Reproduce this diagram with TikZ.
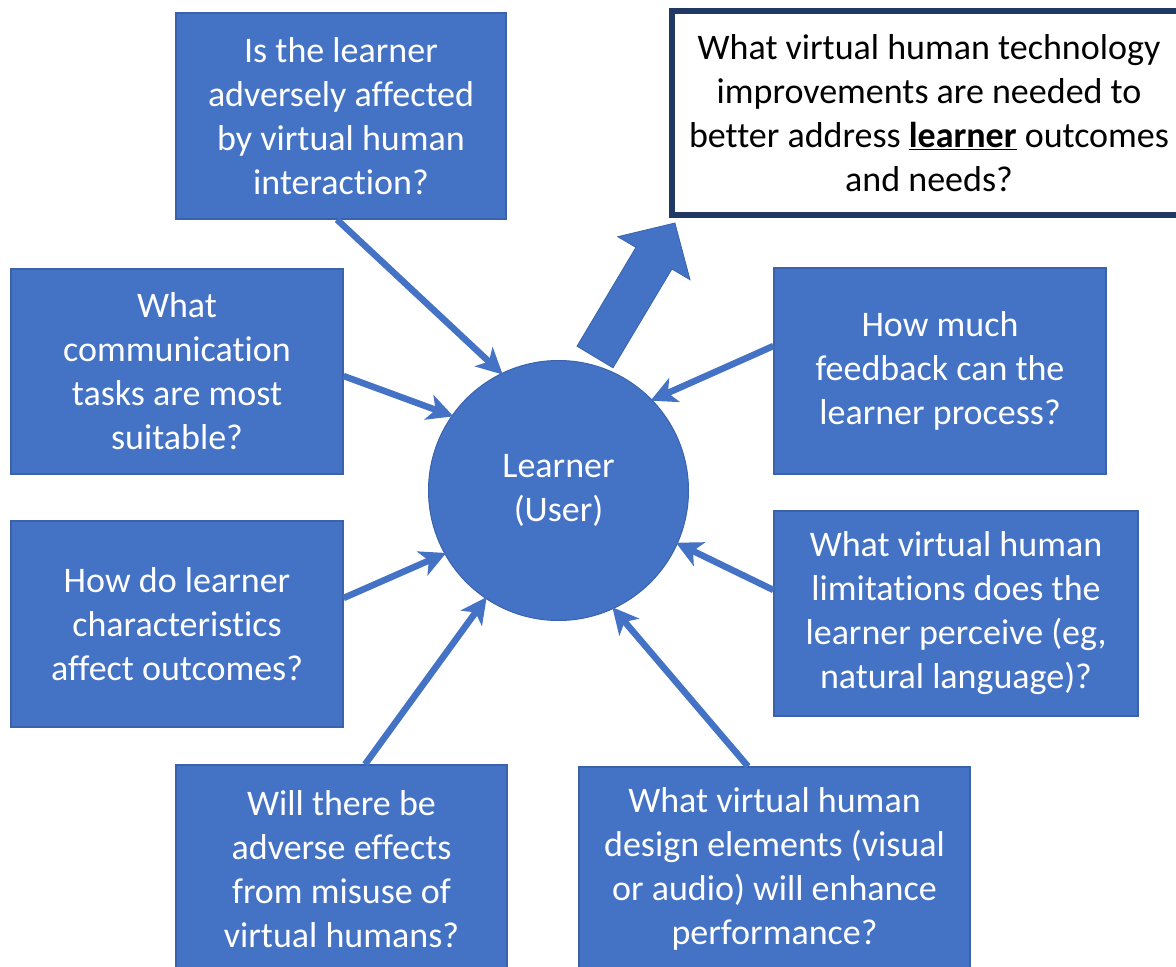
\documentclass[tikz,border=0pt]{standalone}
\usepackage{fontspec}
\setmainfont{Carlito}[Ligatures=CommonOff]
\usetikzlibrary{arrows.meta,calc}
\definecolor{vblue}{HTML}{4472C4}
\definecolor{vedge}{HTML}{3A63AC}
\definecolor{vnavy}{HTML}{203864}
\tikzset{
  qbox/.style={rectangle, fill=vblue, draw=vedge, line width=1.2pt, inner sep=0pt,
    text=white, align=center, font=\fontsize{36}{44}\selectfont},
  conn/.style={draw=vblue, line width=6.5pt,
    -{Stealth[length=26pt,width=26pt,inset=7pt]}, shorten >=-2pt},
  bigarrow/.style={fill=vblue, draw=vedge, line width=0.8pt, line join=miter},
}
\begin{document}
\begin{tikzpicture}[x=1pt,y=-1pt]
\useasboundingbox (0,0) rectangle (1176,967);
% centre
\node[circle, fill=vblue, draw=vedge, line width=1pt, minimum size=260pt, inner sep=0pt,
  text=white, align=center, font=\fontsize{36}{44}\selectfont] (L) at (558.5,490.5) {Learner\\(User)};
% question boxes
\node[qbox, minimum width=330pt, minimum height=206pt] (A) at (341,116)
  {Is the learner\\adversely affected\\by virtual human\\interaction?};
\node[qbox, minimum width=332pt, minimum height=205pt] (B) at (177,371.5)
  {What\\communication\\tasks are most\\suitable?};
\node[qbox, minimum width=332pt, minimum height=206pt] (C) at (177,624)
  {How do learner\\characteristics\\affect outcomes?};
\node[qbox, minimum width=331pt, minimum height=208pt] (D) at (341.5,869)
  {Will there be\\adverse effects\\from misuse of\\virtual humans?};
\node[qbox, minimum width=391pt, minimum height=204pt] (E) at (774.5,869)
  {What virtual human\\design elements (visual\\or audio) will enhance\\performance?};
\node[qbox, minimum width=364pt, minimum height=205pt] (F) at (956,613.5)
  {What virtual human\\limitations does the\\learner perceive (eg,\\natural language)?};
\node[qbox, minimum width=332pt, minimum height=206pt] (G) at (940,371)
  {How much\\feedback can the\\learner process?};
\node[rectangle, fill=white, draw=vnavy, line width=6pt, inner sep=0pt,
  minimum width=514pt, minimum height=204pt, align=center,
  font=\fontsize{36}{44}\selectfont] (H) at (929,113)
  {What virtual human technology\\improvements are needed to\\better address \underline{\textbf{learner}} outcomes\\and needs?};
% connectors
\draw[conn] ($(A.south)+(-4,0)$) -- (L.116.6);
\draw[conn] ($(B.east)+(0,4.5)$) -- (L.145.6);
\draw[conn] ($(C.east)+(0,-26)$) -- (L.209.4);
\draw[conn] ($(D.north)+(23.5,0)$) -- (L.236.8);
\draw[conn] ($(E.north)+(-26.5,0)$) -- (L.295.2);
\draw[conn] ($(F.west)+(0,-23.5)$) -- (L.336.4);
\draw[conn] ($(G.west)+(0,-25)$) -- (L.44.7);
% block arrow from the learner to the technology question
\coordinate (bb) at (595,357);
\draw[bigarrow] ($(bb)+(-18,-10.8)$) -- ($(bb)+(40.9,-109.6)$) -- ($(bb)+(22.8,-120.3)$)
  -- ($(bb)+(79.9,-134)$) -- ($(bb)+(95,-77.3)$) -- ($(bb)+(76.9,-88)$)
  -- ($(bb)+(18,10.8)$) -- cycle;
\end{tikzpicture}
\end{document}
